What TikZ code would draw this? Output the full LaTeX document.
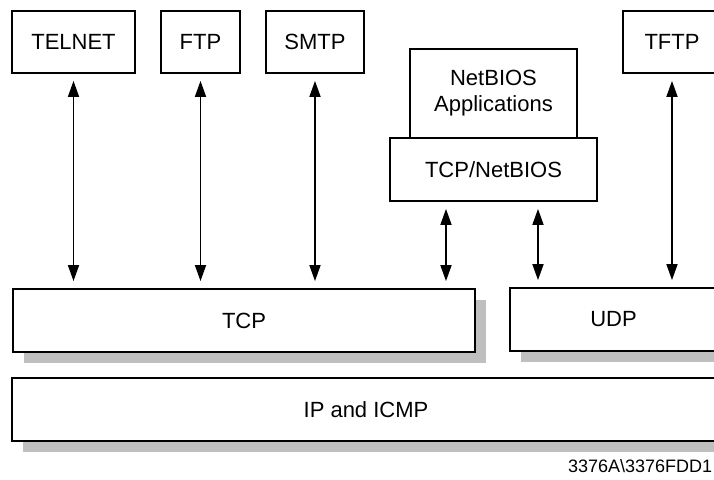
\documentclass[tikz,border=0pt]{standalone}
\usepackage{fontspec}
\setmainfont{Liberation Sans}
\usetikzlibrary{arrows.meta,shadows}

\begin{document}
\begin{tikzpicture}[x=0.5pt,y=-0.5pt,
    every node/.style={draw,line width=0.9pt,inner sep=0pt,align=center,font=\fontsize{11}{13}\selectfont},
    layer/.style={fill=white,drop shadow={shadow xshift=5.5pt,shadow yshift=-5.5pt,fill=black!25,opacity=1}},
    link/.style={{Triangle[length=8pt,width=5.5pt]}-{Triangle[length=8pt,width=5.5pt]},line width=0.85pt,shorten <=3.5pt,shorten >=3.5pt}]
          \useasboundingbox (0,0) rectangle (714,480);
          \clip (0,0) rectangle (714,480);
          \node[minimum width=61.5pt,minimum height=31pt] (telnet) at (73.5,42) {TELNET};
          \node[minimum width=39.5pt,minimum height=31pt] (ftp) at (200.5,42) {FTP};
          \node[minimum width=49pt,minimum height=31pt] (smtp) at (315,42) {SMTP};
          \node[minimum width=49pt,minimum height=31pt] (tftp) at (672,42) {TFTP};
          \node[minimum width=83.5pt,minimum height=44.5pt] (nbapp) at (493.5,93.5) {NetBIOS\\Applications};
          \node[minimum width=103.5pt,minimum height=31.5pt] (tcpnb) at (493.5,169.5) {TCP/NetBIOS};
          \node[layer,minimum width=231pt,minimum height=31.5pt] (tcp) at (244,320.5) {TCP};
          \node[layer,minimum width=103.5pt,minimum height=31.5pt] (udp) at (613.5,319.5) {UDP};
          \node[layer,minimum width=354pt,minimum height=31.5pt] (ip) at (366,409.5) {IP and ICMP};
          \node[draw=none,anchor=east,font=\fontsize{9}{11}\selectfont] (fig) at (713,466) {3376A\textbackslash3376FDD1};
          \draw[link] (telnet.south) -- (telnet.south |- tcp.north);
          \draw[link] (ftp.south) -- (ftp.south |- tcp.north);
          \draw[link] (smtp.south) -- (smtp.south |- tcp.north);
          \draw[link] (tftp.south) -- (tftp.south |- udp.north);
          \draw[link] ([xshift=-23.75pt]tcpnb.south) -- ([xshift=-23.75pt]tcpnb.south |- tcp.north);
          \draw[link] ([xshift=22.25pt]tcpnb.south) -- ([xshift=22.25pt]tcpnb.south |- udp.north);
        \end{tikzpicture}
\end{document}
